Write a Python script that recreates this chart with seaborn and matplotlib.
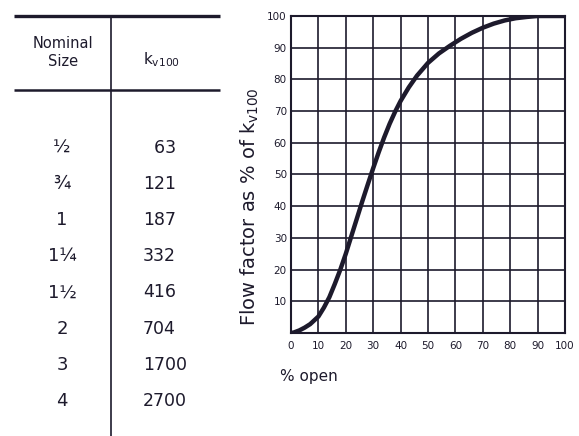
import numpy as np
import matplotlib
matplotlib.use("Agg")
import matplotlib.pyplot as plt
import seaborn as sns

# table data
nominal_sizes = ["½", "¾", "1", "1¼", "1½", "2", "3", "4"]
kv100_values = [63, 121, 187, 332, 416, 704, 1700, 2700]

# flow characteristic curve
pct_open = [0, 1, 3, 5, 7, 10, 12, 14, 16, 18, 20, 22, 24, 26, 28, 30, 32, 34, 36,
            38, 40, 43, 46, 50, 54, 58, 62, 66, 70, 74, 78, 82, 86, 90, 100]
flow_pct = [0, 0.15, 0.8, 1.7, 2.8, 5.2, 8, 11.3, 15.5, 20, 25, 30.5, 36, 41.5, 46.8,
            52, 57, 61.7, 66, 69.8, 73.2, 77.5, 81.2, 85.2, 88.2, 90.6, 92.8, 94.7,
            96.3, 97.6, 98.6, 99.3, 99.7, 100, 100]

INK = "#1d1a2c"

sns.set_style("white")
plt.rcParams["font.family"] = ["DejaVu Sans"]

fig = plt.figure(figsize=(5.79, 4.36), dpi=100)

# ---- left table, drawn in pixel-like coords ----
ax_t = fig.add_axes([0, 0, 230 / 579, 1])
ax_t.set_xlim(0, 230)
ax_t.set_ylim(436, 0)
ax_t.axis("off")
ax_t.plot([14, 220], [16, 16], color=INK, lw=2.4, solid_capstyle="butt")
ax_t.plot([14, 220], [90, 90], color=INK, lw=1.8, solid_capstyle="butt")
ax_t.plot([111, 111], [16, 436], color=INK, lw=1.2)
ax_t.text(63, 53, "Nominal\nSize", ha="center", va="center", fontsize=10.5,
          color=INK, linespacing=1.25)
ax_t.text(162, 60, r"k$_{\mathregular{v100}}$", ha="center", va="center",
          fontsize=11, color=INK)
for i, (size, kv) in enumerate(zip(nominal_sizes, kv100_values)):
    y = 148 + 36.1 * i
    ax_t.text(62, y, size, ha="center", va="center", fontsize=13, color=INK)
    label = f"{kv:>3}".replace(" ", "\u2007")
    ax_t.text(143, y, label, ha="left", va="center", fontsize=12.5, color=INK)

# ---- right chart ----
ax = fig.add_axes([291 / 579, (436 - 333) / 436, 274 / 579, 317 / 436])
sns.lineplot(x=pct_open, y=flow_pct, ax=ax, color=INK, lw=3.2,
             solid_joinstyle="round", solid_capstyle="round")
ax.set_xlim(0, 100)
ax.set_ylim(0, 100)
ax.set_xticks(np.arange(0, 101, 10))
ax.set_yticks(np.arange(0, 101, 10))
ax.set_yticklabels([""] + [str(v) for v in range(10, 101, 10)])
ax.grid(True, color=INK, lw=1.2)
for s in ax.spines.values():
    s.set_color(INK)
    s.set_linewidth(1.5)
ax.tick_params(axis="both", length=0, labelsize=7.5, colors=INK, pad=3)
ax.tick_params(axis="x", pad=6)
ax.set_xlabel("% open", fontsize=11, color=INK, loc="left")
ax.xaxis.set_label_coords(-0.04, -0.115)
ax.set_ylabel(r"Flow factor as % of k$_{\mathregular{v100}}$", fontsize=14,
              color=INK)
ax.yaxis.set_label_coords(-0.11, 0.4)

fig.savefig("out.png", dpi=100)
